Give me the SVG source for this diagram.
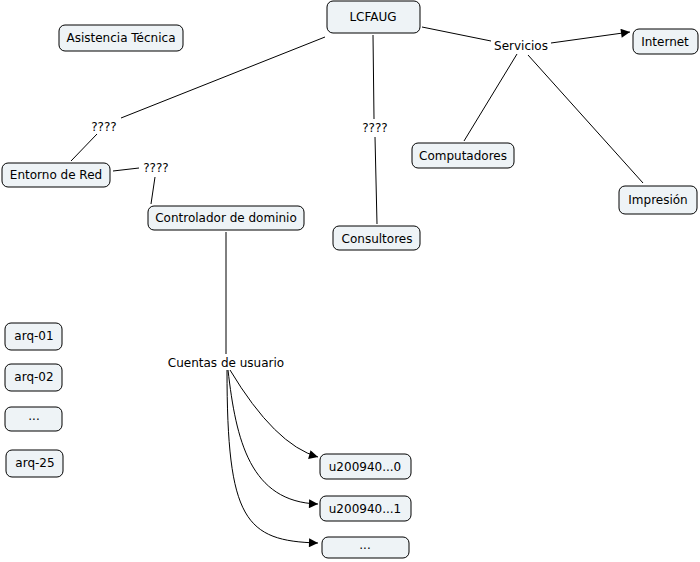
<svg xmlns="http://www.w3.org/2000/svg" width="700" height="562" viewBox="0 0 700 562">
<defs>
<style>
.n rect{fill:#eef3f6;stroke:#000;stroke-width:1}
text{font-family:"DejaVu Sans",Verdana,sans-serif;font-size:12px;fill:#000;text-anchor:middle}
.c path,.c line{stroke:#000;stroke-width:1;fill:none}
</style>
<marker id="ah" viewBox="0 0 10 10" refX="10" refY="5" markerWidth="10" markerHeight="9" markerUnits="userSpaceOnUse" orient="auto">
<path d="M0,0 L10,5 L0,10 Z" fill="#000"/>
</marker>
</defs>
<rect width="700" height="562" fill="#fff"/>
<g id="connectors" class="c">
<line x1="325" y1="37" x2="121" y2="118"/>
<line x1="97" y1="134" x2="71" y2="161"/>
<line x1="113" y1="171" x2="139" y2="168"/>
<line x1="155" y1="177" x2="151" y2="204"/>
<line x1="373" y1="35" x2="374" y2="119"/>
<line x1="375" y1="137" x2="377" y2="224"/>
<line x1="422" y1="27" x2="491" y2="41"/>
<line x1="551" y1="43" x2="630" y2="32" marker-end="url(#ah)"/>
<line x1="517" y1="54" x2="464" y2="141"/>
<line x1="528" y1="55" x2="643" y2="183"/>
<line x1="226" y1="232" x2="226" y2="354"/>
<path d="M230,370 Q275,445 318,457" marker-end="url(#ah)"/>
<path d="M228,370 C236,440 250,502 318,504" marker-end="url(#ah)"/>
<path d="M227,370 C227,520 245,541 318,543" marker-end="url(#ah)"/>
</g>
<g id="lbl-servicios"><text x="521" y="50">Servicios</text></g>
<g id="lbl-q1"><text x="104" y="131">????</text></g>
<g id="lbl-q2"><text x="156" y="172">????</text></g>
<g id="lbl-q3"><text x="375" y="132">????</text></g>
<g id="lbl-cuentas"><text x="226" y="367">Cuentas de usuario</text></g>
<g id="asistencia" class="n"><rect x="59" y="25" width="124" height="26" rx="6"/><text x="121" y="42">Asistencia Técnica</text></g>
<g id="lcfaug" class="n"><rect x="327" y="1" width="93" height="32" rx="6"/><text x="373" y="21">LCFAUG</text></g>
<g id="entorno" class="n"><rect x="2" y="163" width="108" height="24" rx="6"/><text x="56" y="179">Entorno de Red</text></g>
<g id="controlador" class="n"><rect x="148" y="206" width="156" height="24" rx="6"/><text x="226" y="222">Controlador de dominio</text></g>
<g id="consultores" class="n"><rect x="333" y="226" width="87" height="24" rx="6"/><text x="377" y="243">Consultores</text></g>
<g id="computadores" class="n"><rect x="412" y="143" width="102" height="25" rx="6"/><text x="463" y="160">Computadores</text></g>
<g id="internet" class="n"><rect x="633" y="29" width="65" height="25" rx="6"/><text x="665" y="46">Internet</text></g>
<g id="impresion" class="n"><rect x="619" y="186" width="78" height="28" rx="6"/><text x="658" y="204">Impresión</text></g>
<g id="arq01" class="n"><rect x="5" y="323" width="57" height="27" rx="6"/><text x="34" y="340">arq-01</text></g>
<g id="arq02" class="n"><rect x="5" y="364" width="57" height="27" rx="6"/><text x="34" y="381">arq-02</text></g>
<g id="arqdots" class="n"><rect x="5" y="407" width="57" height="24" rx="6"/><text x="34" y="420">...</text></g>
<g id="arq25" class="n"><rect x="6" y="450" width="57" height="27" rx="6"/><text x="35" y="467">arq-25</text></g>
<g id="u0" class="n"><rect x="320" y="454" width="91" height="25" rx="6"/><text x="365" y="471">u200940...0</text></g>
<g id="u1" class="n"><rect x="320" y="496" width="91" height="25" rx="6"/><text x="365" y="513">u200940...1</text></g>
<g id="udots" class="n"><rect x="322" y="537" width="87" height="21" rx="6"/><text x="365" y="549">...</text></g>
</svg>
